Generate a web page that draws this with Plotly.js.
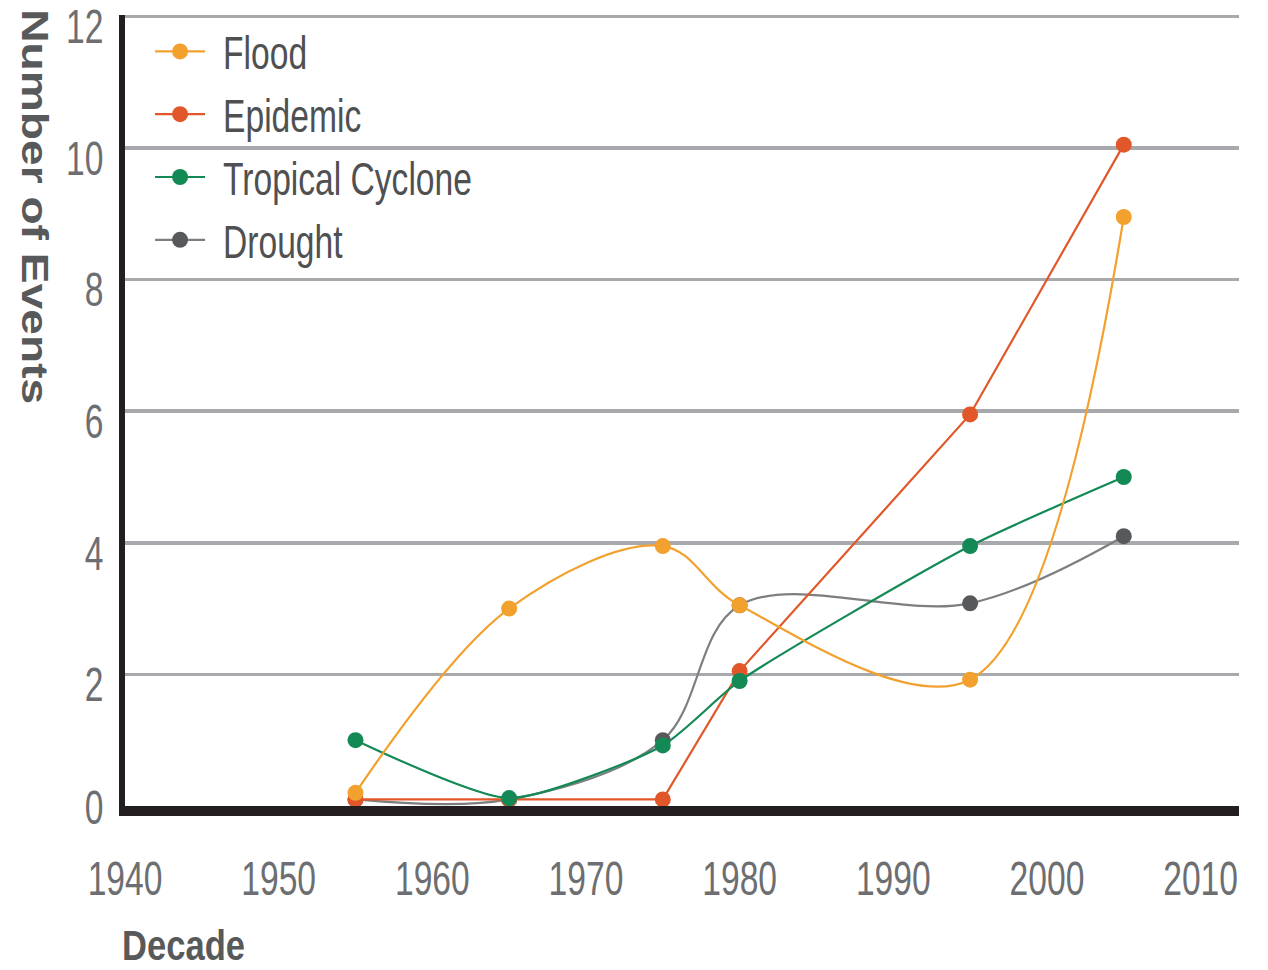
<!DOCTYPE html>
<html>
<head>
<meta charset="utf-8">
<script src="https://cdn.plot.ly/plotly-3.0.1.min.js"></script>
<style>html,body{margin:0;padding:0;background:#fff;}#chart{width:1268px;height:970px;}</style>
</head>
<body>
<div id="chart"></div>
<script>
// Data
const decades = [1955, 1965, 1975, 1980, 1995, 2005];
const flood = [0.2, 3.0, 3.95, 3.05, 1.92, 8.95];
const epidemic = [0.1, 0.1, 0.1, 2.05, 5.95, 10.05];
const tropicalCyclone = [1.0, 0.12, 0.92, 1.9, 3.95, 5.0];
const drought = [0.1, 0.1, 1.0, 3.05, 3.08, 4.1];
const seriesNames = ["Flood", "Epidemic", "Tropical Cyclone", "Drought"];
const xTicks = [1940, 1950, 1960, 1970, 1980, 1990, 2000, 2010];
const yTicks = [0, 2, 4, 6, 8, 10, 12];

const FONT = "'Liberation Sans', Arial, sans-serif";

function trace(name, y, lineColor, markerColor, shape, smoothing, rank) {
  return {
    x: decades, y: y, name: name, type: 'scatter', mode: 'lines+markers',
    legendrank: rank,
    line: {color: lineColor, width: 2.2, shape: shape, smoothing: smoothing},
    marker: {color: markerColor, size: 16, symbol: 'circle'}
  };
}

// drawing order: Drought (bottom), Epidemic, Tropical Cyclone, Flood (top)
const data = [
  trace(seriesNames[3], drought, '#7d7e80', '#58595b', 'spline', 1.0, 4),
  trace(seriesNames[1], epidemic, '#e2572a', '#e2572a', 'linear', 0, 2),
  trace(seriesNames[2], tropicalCyclone, '#138a55', '#138a55', 'spline', 0.6, 3),
  trace(seriesNames[0], flood, '#f2a12e', '#f2a12e', 'spline', 1.0, 1)
];

const layout = {
  width: 1268, height: 970,
  margin: {l: 125, r: 29, t: 15, b: 164},
  paper_bgcolor: '#ffffff', plot_bgcolor: '#ffffff',
  showlegend: true,
  legend: {
    x: 0.0225, y: 1.0, xanchor: 'left', yanchor: 'top',
    bgcolor: 'rgba(0,0,0,0)', traceorder: 'normal',
    font: {family: FONT, size: 46, color: '#4f5052'},
    itemwidth: 50, tracegroupgap: 0
  },
  xaxis: {
    range: [1940, 2012.5], tickvals: xTicks, ticktext: xTicks.map(String),
    showgrid: false, zeroline: false,
    showline: true, linecolor: '#231f20', linewidth: 10,
    ticks: '', ticklabelstandoff: 21, ticklabeloverflow: 'allow',
    tickfont: {family: FONT, size: 48, color: '#6d6e71'}
  },
  yaxis: {
    range: [0, 12.02], tickvals: yTicks, ticktext: yTicks.map(String),
    showgrid: true, gridcolor: '#a7a9ac', gridwidth: 3.5,
    zeroline: false,
    showline: true, linecolor: '#231f20', linewidth: 6,
    ticks: '', ticklabelstandoff: 6, ticklabelshift: 10, ticklabeloverflow: 'allow',
    tickfont: {family: FONT, size: 48, color: '#6d6e71'}
  },
  annotations: [
    {text: '<b>Number of Events</b>', textangle: 90, showarrow: false,
     xref: 'paper', yref: 'paper', x: -0.081, y: 0.758, xanchor: 'center', yanchor: 'middle',
     font: {family: FONT, size: 36, color: '#58595b'}},
    {text: '<b>Decade</b>', showarrow: false,
     xref: 'paper', yref: 'paper', x: 0.0525, y: -0.176, xanchor: 'center', yanchor: 'middle',
     font: {family: FONT, size: 43, color: '#58595b'}}
  ]
};

// The reference uses a condensed face; compress glyphs horizontally (text stays real text)
function squeeze(el, len) {
  el.setAttribute('textLength', len);
  el.setAttribute('lengthAdjust', 'spacingAndGlyphs');
}

Plotly.newPlot('chart', data, layout, {displayModeBar: false, staticPlot: true}).then(function (gd) {
  gd.querySelectorAll('.xtick text, .ytick text').forEach(function (t) {
    squeeze(t, t.getComputedTextLength() * 0.70);
  });
  gd.querySelectorAll('.ytick text').forEach(function (t) {
    if (t.textContent === '0') {
      t.setAttribute('transform', (t.getAttribute('transform') || '') + ' translate(0,-9)');
    }
  });
  gd.querySelectorAll('.legendtext').forEach(function (t) {
    squeeze(t, t.getComputedTextLength() * 0.73);
    t.setAttribute('x', parseFloat(t.getAttribute('x')) + 13);
  });
  gd.querySelectorAll('.annotation-text').forEach(function (t) {
    const s = t.textContent;
    if (s.indexOf('Number') >= 0) squeeze(t, 395);
    else squeeze(t, 123);
  });
});
</script>
</body>
</html>
